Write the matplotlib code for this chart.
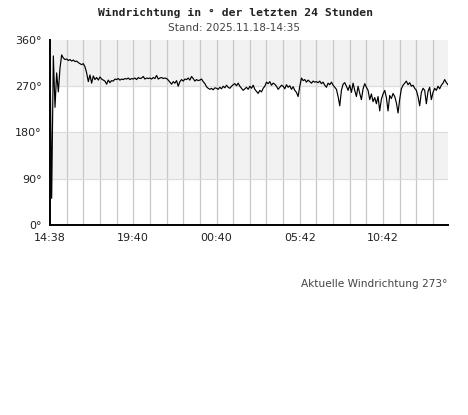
import matplotlib.pyplot as plt
import numpy as np

richtung = [
    330, 52, 329, 229, 296, 259, 305, 331, 325, 322,
    323, 320, 322, 319, 321, 318, 319, 316, 314, 312,
    314, 308, 296, 279, 292, 276, 290, 283, 287, 282,
    288, 284, 282, 280, 274, 282, 277, 281, 280, 284,
    283, 285, 282, 284, 283, 285, 284, 286, 283, 285,
    284, 286, 283, 287, 285, 286, 289, 284, 286, 285,
    286, 284, 287, 285, 291, 284, 286, 287, 285, 286,
    285, 282, 278, 274, 279, 276, 281, 270, 279, 283,
    280, 284, 283, 286, 282, 289, 285, 280, 283, 281,
    282, 284, 279, 275, 269, 266, 264, 266, 263, 267,
    266, 264, 268, 265, 270, 267, 272, 268, 266, 270,
    273, 275, 271, 276, 270, 266, 262, 265, 268, 264,
    270, 266, 272, 264, 260, 256, 262, 259, 266, 270,
    278, 275, 279, 272, 276, 274, 270, 264, 268, 272,
    270, 265, 273, 268, 271, 264, 269, 262, 258, 250,
    270, 286, 281, 283, 278, 282, 279, 276, 280, 278,
    279, 277, 280, 275, 278, 272, 268, 276, 273, 278,
    272, 268, 264, 250, 232, 262, 274, 277, 270, 262,
    272, 258, 276, 262, 250, 270, 256, 244, 265, 275,
    268, 262, 244, 255, 240, 248, 236, 250, 222, 245,
    255, 262, 248, 222, 252, 246, 256, 250, 238, 218,
    245, 265, 272, 276, 280, 273, 277, 270, 272, 266,
    262, 250, 232, 258, 266, 262, 236, 260, 268, 244,
    258, 266, 262, 270, 265, 272, 276, 283, 277, 273,
]
stunden = np.arange(len(richtung)) * 0.1

x_ticks = [0, 5, 10, 15, 20]
x_labels = ["14:38", "19:40", "00:40", "05:42", "10:42"]
y_ticks = [0, 90, 180, 270, 360]
y_labels = ["0°", "90°", "180°", "270°", "360°"]

fig = plt.figure(figsize=(4.68, 4.15), dpi=100)
ax = fig.add_axes([50/468, 1-225/415, 398/468, 185/415])

# graue Baender
ax.axhspan(270, 360, color="#f2f2f2", zorder=0)
ax.axhspan(90, 180, color="#f2f2f2", zorder=0)
for h in range(1, 24):
    ax.axvline(h, color="#c8c8c8", linewidth=0.9, zorder=1)
for d in [90, 180, 270]:
    ax.axhline(d, color="#dddddd", linewidth=0.8, zorder=1)

ax.plot(stunden, richtung, color="black", linewidth=0.85, zorder=3)

ax.set_xlim(0, 23.9)
ax.set_ylim(0, 360)
ax.set_xticks(x_ticks)
ax.set_xticklabels(x_labels)
ax.set_yticks(y_ticks)
ax.set_yticklabels(y_labels)
ax.tick_params(length=0, labelsize=8, colors="#222222", pad=6)
ax.spines["top"].set_visible(False)
ax.spines["right"].set_visible(False)
ax.spines["left"].set_linewidth(1.4)
ax.spines["bottom"].set_linewidth(1.4)

fig.text(235/468, 1-13/415, "Windrichtung in ° der letzten 24 Stunden",
         family="DejaVu Sans Mono", weight="bold", fontsize=8.2,
         ha="center", va="center", color="#222222")
fig.text(234/468, 1-28/415, "Stand: 2025.11.18-14:35", fontsize=7.6,
         ha="center", va="center", color="#444444")
fig.text(447/468, 1-284/415, "Aktuelle Windrichtung 273°", fontsize=7.6,
         ha="right", va="center", color="#444444")

plt.savefig("out.png", dpi=100)
